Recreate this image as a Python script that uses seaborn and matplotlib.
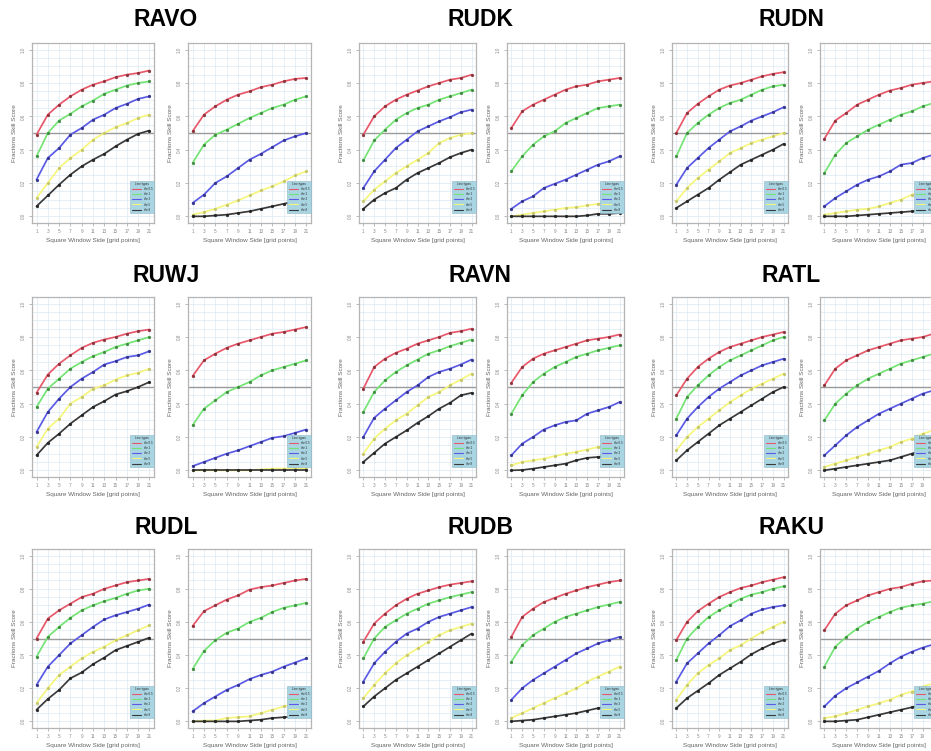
import matplotlib
matplotlib.use("Agg")
import matplotlib.pyplot as plt
from matplotlib.lines import Line2D
import seaborn as sns

# ---------------- data ----------------
window_sides = [1, 3, 5, 7, 9, 11, 13, 15, 17, 19, 21]
tick_labels_y = ["0.0", "0.2", "0.4", "0.6", "0.8", "1.0"]
thresholds = ["thr 0.5", "thr 1", "thr 2", "thr 5", "thr 8"]
line_colors = ["#e8586a", "#74e474", "#5a5ae6", "#f6f67c", "#3a3a3a"]
marker_colors = ["#8a3038", "#3f8a3f", "#30308a", "#c4c468", "#222222"]
stations = ["RAVO", "RUDK", "RUDN", "RUWJ", "RAVN", "RATL", "RUDL", "RUDB", "RAKU"]

ravo_left = [
    [0.49, 0.61, 0.67, 0.72, 0.76, 0.79, 0.81, 0.835, 0.85, 0.86, 0.875],
    [0.36, 0.50, 0.575, 0.615, 0.66, 0.695, 0.735, 0.76, 0.785, 0.80, 0.81],
    [0.22, 0.35, 0.41, 0.49, 0.53, 0.58, 0.61, 0.65, 0.675, 0.705, 0.72],
    [0.11, 0.20, 0.29, 0.35, 0.40, 0.46, 0.50, 0.535, 0.56, 0.59, 0.61],
    [0.06, 0.125, 0.19, 0.25, 0.30, 0.34, 0.375, 0.42, 0.46, 0.495, 0.515],
]
ravo_right = [
    [0.51, 0.61, 0.66, 0.70, 0.73, 0.75, 0.775, 0.79, 0.81, 0.825, 0.83],
    [0.32, 0.43, 0.49, 0.52, 0.555, 0.59, 0.62, 0.65, 0.67, 0.70, 0.72],
    [0.08, 0.13, 0.20, 0.24, 0.29, 0.34, 0.375, 0.415, 0.455, 0.48, 0.50],
    [0.01, 0.025, 0.045, 0.07, 0.095, 0.125, 0.155, 0.18, 0.21, 0.245, 0.27],
    [0.0, 0.0, 0.005, 0.01, 0.02, 0.03, 0.045, 0.06, 0.075, 0.09, 0.105],
]
rudk_left = [
    [0.49, 0.60, 0.66, 0.70, 0.73, 0.755, 0.78, 0.80, 0.82, 0.83, 0.85],
    [0.335, 0.455, 0.52, 0.58, 0.62, 0.65, 0.67, 0.70, 0.72, 0.74, 0.76],
    [0.17, 0.27, 0.34, 0.41, 0.46, 0.51, 0.54, 0.57, 0.595, 0.625, 0.64],
    [0.09, 0.16, 0.21, 0.26, 0.30, 0.34, 0.38, 0.44, 0.47, 0.49, 0.50],
    [0.045, 0.10, 0.14, 0.17, 0.22, 0.26, 0.29, 0.32, 0.355, 0.38, 0.40],
]
rudk_right = [
    [0.53, 0.63, 0.67, 0.70, 0.73, 0.76, 0.78, 0.79, 0.81, 0.82, 0.83],
    [0.27, 0.36, 0.43, 0.48, 0.51, 0.56, 0.59, 0.62, 0.65, 0.66, 0.67],
    [0.045, 0.09, 0.12, 0.17, 0.195, 0.22, 0.25, 0.28, 0.31, 0.33, 0.36],
    [0.0, 0.01, 0.02, 0.03, 0.04, 0.05, 0.055, 0.065, 0.075, 0.085, 0.09],
    [0.0, 0.0, 0.0, 0.0, 0.0, 0.0, 0.0, 0.005, 0.015, 0.015, 0.02],
]
rudn_left = [
    [0.50, 0.62, 0.675, 0.72, 0.76, 0.785, 0.80, 0.82, 0.84, 0.855, 0.865],
    [0.36, 0.50, 0.56, 0.61, 0.65, 0.68, 0.70, 0.73, 0.76, 0.78, 0.79],
    [0.19, 0.29, 0.35, 0.41, 0.46, 0.51, 0.54, 0.575, 0.60, 0.625, 0.655],
    [0.09, 0.17, 0.23, 0.28, 0.33, 0.38, 0.41, 0.44, 0.46, 0.48, 0.50],
    [0.05, 0.09, 0.13, 0.17, 0.22, 0.265, 0.31, 0.34, 0.37, 0.40, 0.435],
]
rudn_right = [
    [0.465, 0.575, 0.62, 0.67, 0.70, 0.73, 0.755, 0.77, 0.79, 0.80, 0.81],
    [0.26, 0.37, 0.44, 0.48, 0.52, 0.55, 0.58, 0.61, 0.63, 0.66, 0.68],
    [0.06, 0.11, 0.15, 0.19, 0.22, 0.24, 0.27, 0.31, 0.32, 0.35, 0.37],
    [0.01, 0.02, 0.03, 0.04, 0.045, 0.06, 0.08, 0.10, 0.13, 0.15, 0.17],
    [0.0, 0.0, 0.0, 0.005, 0.01, 0.015, 0.02, 0.025, 0.03, 0.04, 0.05],
]
ruwj_left = [
    [0.465, 0.575, 0.64, 0.69, 0.735, 0.765, 0.785, 0.80, 0.82, 0.835, 0.845],
    [0.38, 0.49, 0.55, 0.61, 0.65, 0.685, 0.71, 0.74, 0.76, 0.78, 0.80],
    [0.23, 0.35, 0.43, 0.50, 0.55, 0.59, 0.635, 0.655, 0.68, 0.69, 0.715],
    [0.14, 0.25, 0.31, 0.40, 0.44, 0.49, 0.51, 0.545, 0.57, 0.585, 0.61],
    [0.09, 0.165, 0.22, 0.28, 0.33, 0.38, 0.415, 0.455, 0.475, 0.50, 0.53],
]
ruwj_right = [
    [0.565, 0.66, 0.70, 0.735, 0.76, 0.78, 0.80, 0.82, 0.83, 0.845, 0.86],
    [0.27, 0.37, 0.42, 0.47, 0.50, 0.53, 0.57, 0.60, 0.62, 0.64, 0.66],
    [0.025, 0.05, 0.075, 0.10, 0.12, 0.145, 0.17, 0.195, 0.205, 0.225, 0.245],
    [0.0, 0.0, 0.0, 0.0, 0.0, 0.0, 0.005, 0.01, 0.01, 0.01, 0.01],
    [0.0, 0.0, 0.0, 0.0, 0.0, 0.0, 0.0, 0.0, 0.0, 0.0, 0.0],
]
ravn_left = [
    [0.49, 0.62, 0.67, 0.705, 0.73, 0.76, 0.78, 0.80, 0.825, 0.835, 0.85],
    [0.35, 0.47, 0.54, 0.59, 0.63, 0.665, 0.70, 0.72, 0.745, 0.765, 0.785],
    [0.20, 0.315, 0.37, 0.42, 0.47, 0.51, 0.56, 0.59, 0.61, 0.635, 0.665],
    [0.10, 0.19, 0.25, 0.30, 0.34, 0.39, 0.44, 0.47, 0.51, 0.545, 0.58],
    [0.05, 0.105, 0.16, 0.20, 0.24, 0.285, 0.325, 0.37, 0.405, 0.45, 0.465],
]
ravn_right = [
    [0.525, 0.62, 0.67, 0.70, 0.72, 0.74, 0.76, 0.78, 0.79, 0.80, 0.815],
    [0.34, 0.45, 0.53, 0.58, 0.62, 0.65, 0.68, 0.70, 0.72, 0.735, 0.75],
    [0.09, 0.16, 0.20, 0.245, 0.27, 0.29, 0.30, 0.34, 0.36, 0.38, 0.41],
    [0.03, 0.05, 0.06, 0.07, 0.085, 0.10, 0.11, 0.125, 0.14, 0.155, 0.17],
    [0.0, 0.002, 0.01, 0.02, 0.03, 0.04, 0.06, 0.075, 0.08, 0.09, 0.10],
]
ratl_left = [
    [0.45, 0.55, 0.62, 0.67, 0.71, 0.74, 0.76, 0.78, 0.80, 0.815, 0.83],
    [0.31, 0.44, 0.51, 0.57, 0.62, 0.66, 0.69, 0.72, 0.75, 0.78, 0.80],
    [0.21, 0.31, 0.38, 0.44, 0.49, 0.53, 0.57, 0.60, 0.63, 0.65, 0.67],
    [0.12, 0.20, 0.26, 0.31, 0.36, 0.41, 0.45, 0.49, 0.52, 0.55, 0.58],
    [0.06, 0.12, 0.17, 0.22, 0.27, 0.31, 0.35, 0.39, 0.43, 0.47, 0.50],
]
ratl_right = [
    [0.51, 0.61, 0.66, 0.69, 0.72, 0.74, 0.76, 0.78, 0.79, 0.80, 0.82],
    [0.30, 0.40, 0.46, 0.51, 0.55, 0.58, 0.61, 0.64, 0.66, 0.68, 0.70],
    [0.09, 0.15, 0.21, 0.26, 0.30, 0.34, 0.37, 0.40, 0.43, 0.46, 0.48],
    [0.02, 0.04, 0.06, 0.08, 0.10, 0.12, 0.14, 0.17, 0.19, 0.22, 0.24],
    [0.0, 0.01, 0.02, 0.03, 0.04, 0.05, 0.06, 0.08, 0.10, 0.12, 0.14],
]
rudl_left = [
    [0.50, 0.62, 0.67, 0.71, 0.75, 0.77, 0.80, 0.82, 0.84, 0.85, 0.86],
    [0.39, 0.51, 0.57, 0.625, 0.67, 0.70, 0.725, 0.745, 0.77, 0.79, 0.80],
    [0.22, 0.33, 0.40, 0.47, 0.52, 0.57, 0.615, 0.64, 0.66, 0.68, 0.705],
    [0.11, 0.20, 0.28, 0.33, 0.38, 0.42, 0.45, 0.49, 0.52, 0.55, 0.58],
    [0.07, 0.135, 0.19, 0.26, 0.295, 0.345, 0.385, 0.43, 0.455, 0.48, 0.505],
]
rudl_right = [
    [0.575, 0.665, 0.70, 0.735, 0.76, 0.795, 0.81, 0.82, 0.835, 0.85, 0.86],
    [0.315, 0.425, 0.49, 0.535, 0.56, 0.60, 0.625, 0.66, 0.685, 0.70, 0.715],
    [0.06, 0.11, 0.15, 0.19, 0.22, 0.255, 0.28, 0.30, 0.33, 0.355, 0.38],
    [0.0, 0.005, 0.005, 0.02, 0.025, 0.03, 0.05, 0.07, 0.09, 0.11, 0.13],
    [0.0, 0.0, 0.0, 0.0, 0.0, 0.005, 0.01, 0.02, 0.025, 0.03, 0.04],
]
rudb_left = [
    [0.48, 0.59, 0.65, 0.70, 0.74, 0.77, 0.79, 0.81, 0.825, 0.835, 0.845],
    [0.38, 0.50, 0.57, 0.61, 0.65, 0.68, 0.71, 0.73, 0.75, 0.765, 0.78],
    [0.24, 0.35, 0.42, 0.48, 0.53, 0.56, 0.60, 0.63, 0.65, 0.67, 0.69],
    [0.14, 0.22, 0.29, 0.35, 0.40, 0.44, 0.48, 0.52, 0.55, 0.57, 0.59],
    [0.09, 0.15, 0.20, 0.25, 0.29, 0.33, 0.37, 0.41, 0.45, 0.49, 0.53],
]
rudb_right = [
    [0.51, 0.63, 0.68, 0.72, 0.745, 0.77, 0.79, 0.81, 0.825, 0.84, 0.85],
    [0.36, 0.46, 0.52, 0.56, 0.60, 0.63, 0.65, 0.67, 0.69, 0.705, 0.72],
    [0.13, 0.20, 0.25, 0.29, 0.33, 0.37, 0.41, 0.44, 0.47, 0.49, 0.51],
    [0.02, 0.05, 0.08, 0.11, 0.14, 0.17, 0.20, 0.24, 0.27, 0.30, 0.33],
    [0.0, 0.005, 0.01, 0.02, 0.03, 0.04, 0.05, 0.065, 0.08, 0.09, 0.10],
]
raku_left = [
    [0.49, 0.60, 0.665, 0.71, 0.75, 0.78, 0.805, 0.82, 0.84, 0.855, 0.87],
    [0.37, 0.50, 0.57, 0.63, 0.67, 0.705, 0.74, 0.765, 0.78, 0.80, 0.815],
    [0.24, 0.35, 0.41, 0.47, 0.52, 0.575, 0.61, 0.65, 0.675, 0.69, 0.70],
    [0.13, 0.22, 0.29, 0.34, 0.38, 0.43, 0.46, 0.50, 0.54, 0.57, 0.60],
    [0.08, 0.14, 0.185, 0.23, 0.28, 0.32, 0.36, 0.405, 0.44, 0.47, 0.49],
]
raku_right = [
    [0.55, 0.65, 0.70, 0.73, 0.76, 0.78, 0.80, 0.81, 0.83, 0.845, 0.85],
    [0.33, 0.45, 0.51, 0.56, 0.60, 0.63, 0.66, 0.685, 0.70, 0.71, 0.725],
    [0.09, 0.155, 0.20, 0.235, 0.27, 0.305, 0.35, 0.39, 0.42, 0.445, 0.465],
    [0.02, 0.03, 0.05, 0.07, 0.09, 0.11, 0.13, 0.16, 0.18, 0.21, 0.23],
    [0.0, 0.0, 0.005, 0.01, 0.025, 0.04, 0.055, 0.07, 0.085, 0.10, 0.11],
]

panels = [
    (ravo_left, ravo_right), (rudk_left, rudk_right), (rudn_left, rudn_right),
    (ruwj_left, ruwj_right), (ravn_left, ravn_right), (ratl_left, ratl_right),
    (rudl_left, rudl_right), (rudb_left, rudb_right), (raku_left, raku_right),
]

# ---------------- style ----------------
sns.set_style("white")
plt.rcParams['font.family'] = ['Liberation Sans', 'DejaVu Sans']

W, H = 931, 751
fig = plt.figure(figsize=(W / 100, H / 100), dpi=100)
fig.patch.set_facecolor("white")

col_left = [(32, 154), (359, 476), (672, 788)]
col_right = [(188, 311), (507, 624), (820, 938)]
rows = [(43, 223), (297, 477), (549, 728)]
title_x = [166, 480, 791]
title_y = [20, 275, 528]


def make_axes(x0, x1, y0, y1):
    return fig.add_axes([x0 / W, 1 - y1 / H, (x1 - x0) / W, (y1 - y0) / H])


def draw(ax, series):
    ax.set_xlim(0.2, 21.8)
    ax.set_ylim(-0.04, 1.04)
    for y in [i * 0.05 for i in range(21)]:
        ax.axhline(y, color="#dbe9f1", lw=0.5, zorder=0.5)
    for x in window_sides:
        ax.axvline(x, color="#dbe9f1", lw=0.5, zorder=0.5)
    ax.axhline(0.5, color="#9a9a9a", lw=1.0, zorder=1.5)
    for vals, col, mcol in zip(series, line_colors, marker_colors):
        sns.lineplot(x=window_sides, y=vals, ax=ax, color=col, lw=1.25,
                     marker="o", markersize=2.0, markerfacecolor=mcol,
                     markeredgecolor=mcol, markeredgewidth=0.3, legend=False,
                     zorder=2)
    ax.set_xticks(window_sides)
    ax.set_xticklabels([str(v) for v in window_sides])
    ax.set_yticks([0, 0.2, 0.4, 0.6, 0.8, 1.0])
    ax.set_yticklabels(tick_labels_y, rotation=90, va="center")
    ax.tick_params(axis="both", length=2, width=0.5, colors="#a0a0a0",
                   labelcolor="#8a8a8a", labelsize=3.3, pad=2.5, direction="out")
    ax.tick_params(bottom=True, left=True)
    for sp in ax.spines.values():
        sp.set_color("#b5b5b5")
        sp.set_linewidth(0.9)
    ax.set_xlabel("Square Window Side [grid points]", fontsize=4.6,
                  color="#666666", labelpad=3)
    ax.set_ylabel("Fractions Skill Score", fontsize=4.6, color="#666666",
                  labelpad=3)
    handles = [Line2D([0], [0], color=c, lw=0.8) for c in line_colors]
    leg = ax.legend(handles, thresholds, title="Line types", loc="lower right",
                    bbox_to_anchor=(1.0, 0.055), borderaxespad=0.0,
                    fontsize=2.2, title_fontsize=2.2, frameon=True,
                    fancybox=False, framealpha=1.0, handlelength=3.0,
                    handletextpad=1.0, borderpad=0.5, labelspacing=0.35)
    leg.get_frame().set_facecolor("#a9d4e2")
    leg.get_frame().set_edgecolor("#8fb8c6")
    leg.get_frame().set_linewidth(0.4)
    leg.set_zorder(5)


for i, (name, (left, right)) in enumerate(zip(stations, panels)):
    r, c = divmod(i, 3)
    y0, y1 = rows[r]
    axl = make_axes(col_left[c][0], col_left[c][1], y0, y1)
    draw(axl, left)
    axr = make_axes(col_right[c][0], col_right[c][1], y0, y1)
    draw(axr, right)
    fig.text(title_x[c] / W, 1 - title_y[r] / H, name, ha="center", va="center",
             fontsize=16.5, fontweight="bold", color="black")

fig.savefig("out.png", dpi=100, facecolor="white")
